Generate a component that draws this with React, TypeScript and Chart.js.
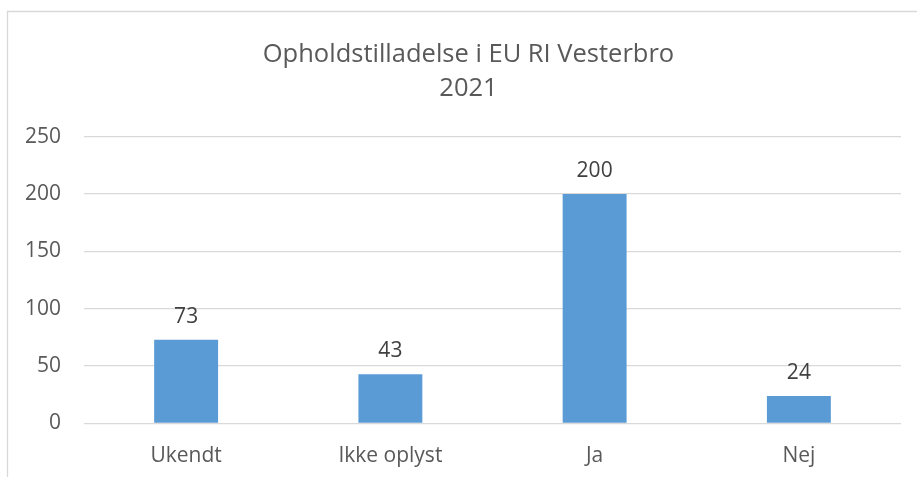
import React, { useEffect, useRef } from "react";
import { Chart, registerables } from "chart.js";

Chart.register(...registerables);

const TITLE_LINES = ["Opholdstilladelse i EU RI Vesterbro", "2021"];
const CATEGORIES = ["Ukendt", "Ikke oplyst", "Ja", "Nej"];
const VALUES = [73, 43, 200, 24];
const Y_MIN = 0;
const Y_MAX = 250;
const Y_STEP = 50;

const FONT = "'Open Sans', 'Noto Sans', sans-serif";
const TEXT = "#595959";
const LABEL = "#404040";
const GRID = "#d9d9d9";
const BAR = "#5b9bd5";

const framePlugin = {
  id: "frame",
  beforeDraw(chart: any) {
    const ctx = chart.ctx;
    ctx.save();
    ctx.fillStyle = "#ffffff";
    ctx.fillRect(0, 0, chart.width, chart.height);
    ctx.strokeStyle = GRID;
    ctx.lineWidth = 1.3;
    ctx.beginPath();
    ctx.moveTo(7.5, chart.height);
    ctx.lineTo(7.5, 11.5);
    ctx.lineTo(chart.width, 11.5);
    ctx.stroke();
    // chart title, centred on the chart frame
    ctx.fillStyle = TEXT;
    ctx.font = `25.5px ${FONT}`;
    ctx.textAlign = "center";
    ctx.textBaseline = "middle";
    TITLE_LINES.forEach((line, i) => {
      ctx.fillText(line, 468.5, 55 + i * 34);
    });
    ctx.restore();
  },
};

const valueLabelPlugin = {
  id: "valueLabels",
  afterDatasetsDraw(chart: any) {
    const ctx = chart.ctx;
    const meta = chart.getDatasetMeta(0);
    const data = chart.data.datasets[0].data as number[];
    ctx.save();
    ctx.font = `21px ${FONT}`;
    ctx.fillStyle = LABEL;
    ctx.textAlign = "center";
    ctx.textBaseline = "alphabetic";
    meta.data.forEach((el: any, i: number) => {
      ctx.fillText(String(data[i]), el.x, el.y - 17);
    });
    ctx.restore();
  },
};

export default function App() {
  const ref = useRef<HTMLCanvasElement>(null);

  useEffect(() => {
    if (!ref.current) return;
    const chart = new Chart(ref.current, {
      type: "bar",
      data: {
        labels: CATEGORIES,
        datasets: [
          {
            data: VALUES,
            backgroundColor: BAR,
            borderWidth: 0,
            categoryPercentage: 1,
            barPercentage: 0.313,
          },
        ],
      },
      options: {
        responsive: false,
        animation: false,
        events: [],
        layout: { padding: { left: 0, right: 16, top: 136.7, bottom: 0 } },
        plugins: {
          legend: { display: false },
          tooltip: { enabled: false },
          title: { display: false },
        },
        scales: {
          x: {
            grid: { display: false, drawTicks: false },
            border: { display: false },
            ticks: {
              color: TEXT,
              font: { family: FONT, size: 21 },
              padding: 20,
              maxRotation: 0,
              autoSkip: false,
            },
            afterFit(scale: any) {
              scale.height = 53.5;
            },
          },
          y: {
            min: Y_MIN,
            max: Y_MAX,
            grid: { color: GRID, lineWidth: 1.3, drawTicks: false },
            border: { display: false },
            ticks: {
              stepSize: Y_STEP,
              color: TEXT,
              font: { family: FONT, size: 21 },
              padding: 23,
            },
            afterFit(scale: any) {
              scale.width = 84;
            },
          },
        },
      },
      plugins: [framePlugin, valueLabelPlugin],
    });
    return () => chart.destroy();
  }, []);

  return (
    <div style={{ position: "absolute", left: 0, top: 0, width: 917, height: 477 }}>
      <canvas ref={ref} width={917} height={477} />
    </div>
  );
}
